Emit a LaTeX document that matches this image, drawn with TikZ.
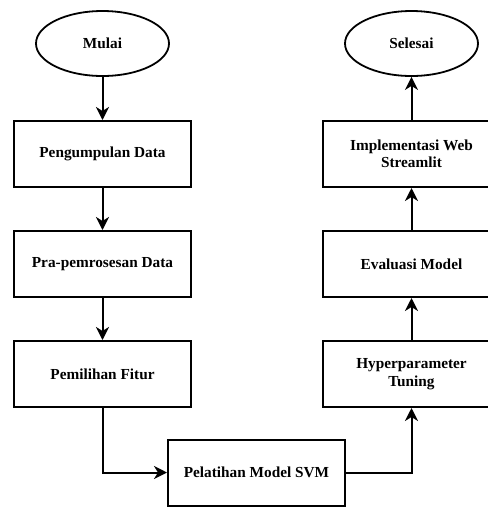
\documentclass[tikz,border=0pt]{standalone}
\usepackage{fontspec}
\setmainfont{Liberation Serif}
\usetikzlibrary{shapes.geometric,arrows.meta}
\begin{document}
\begin{tikzpicture}[x=1pt,y=-1pt,
  every node/.style={font=\bfseries\fontsize{15.3}{17.5}\selectfont, align=center, inner sep=0pt},
  procbox/.style={draw, line width=2pt, rectangle, minimum width=177pt, minimum height=66pt},
  termnode/.style={draw, line width=1.8pt, ellipse, minimum width=133pt, minimum height=65pt},
  flow/.style={line width=2pt, -{Stealth[length=13pt,width=13pt,inset=4pt]}}
]
\useasboundingbox (0,0) rectangle (488,507);
\clip (0,0) rectangle (488,507);
\node[termnode] (mulai) at (102.5,43.5) {Mulai};
\node[procbox] (kumpul) at (102.5,154) {Pengumpulan Data};
\node[procbox] (pra) at (102.5,264) {Pra-pemrosesan Data};
\node[procbox] (fitur) at (102.5,374) {Pemilihan Fitur};
\node[procbox] (latih) at (256.5,472.5) {Pelatihan Model SVM};
\node[procbox] (hyper) at (411.5,374) {Hyperparameter\\Tuning};
\node[procbox] (eval) at (411.5,264) {Evaluasi Model};
\node[procbox] (impl) at (411.5,154) {Implementasi Web\\Streamlit};
\node[termnode] (selesai) at (411.5,43.5) {Selesai};
\draw[flow] (mulai) -- (kumpul);
\draw[flow] (kumpul) -- (pra);
\draw[flow] (pra) -- (fitur);
\draw[flow] (fitur.south) |- (latih.west);
\draw[flow] (latih.east) -| (hyper.south);
\draw[flow] (hyper) -- (eval);
\draw[flow] (eval) -- (impl);
\draw[flow] (impl) -- (selesai);
\end{tikzpicture}
\end{document}
